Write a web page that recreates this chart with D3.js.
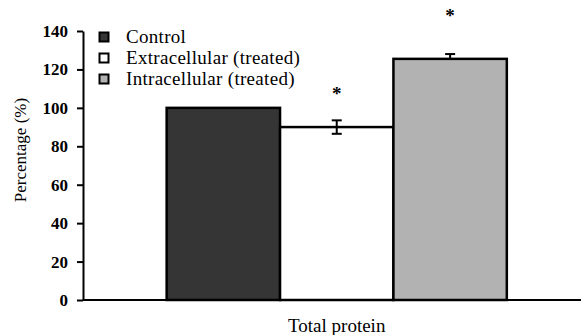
<!DOCTYPE html>
<html>
<head>
<meta charset="utf-8">
<script src="https://cdn.jsdelivr.net/npm/d3@7"></script>
<style>
  body { margin: 0; background: #fff; }
  svg { display: block; font-family: "Liberation Serif", "Times New Roman", serif; }
</style>
</head>
<body>
<svg id="chart" width="581" height="335"></svg>
<script>
// data
var groups = ["Total protein"];
var series = ["Control", "Extracellular (treated)", "Intracellular (treated)"];
var values = [100, 90, 125.5];
var errors = [0, 3.5, 2.5];
var starred = [false, true, true];
var colors = ["#353535", "#ffffff", "#b2b2b2"];
var yTicks = [0, 20, 40, 60, 80, 100, 120, 140];

// star distance above the error bar top, px
var starGap = [0, 20, 32];

var svg = d3.select("#chart");

var plotLeft = 83, plotRight = 581, plotTop = 31, plotBottom = 300;

var y = d3.scaleLinear().domain([0, 140]).range([plotBottom, plotTop]);

var x0 = d3.scaleBand().domain(groups).range([plotLeft, plotRight])
    .paddingInner(0).paddingOuter(0.232).align(0.53);
var x1 = d3.scaleBand().domain(series).range([0, x0.bandwidth()]).padding(0);

// y axis
var yAxis = svg.append("g")
    .attr("transform", "translate(" + plotLeft + ",0)")
    .call(d3.axisLeft(y).tickValues(yTicks).tickSize(6).tickPadding(9).tickSizeOuter(0));
yAxis.attr("font-family", "Liberation Serif, Times New Roman, serif")
    .attr("font-size", 17)
    .attr("font-weight", "bold");
yAxis.select(".domain").attr("stroke", "#000").attr("stroke-width", 2);
yAxis.selectAll(".tick line").attr("stroke", "#000").attr("stroke-width", 2);
yAxis.selectAll(".tick text").attr("fill", "#000");

// bars
var g = svg.append("g").attr("transform", "translate(" + x0(groups[0]) + ",0)");

g.selectAll("rect.bar")
    .data(series)
    .enter().append("rect")
    .attr("class", "bar")
    .attr("x", function(d) { return x1(d); })
    .attr("y", function(d, i) { return y(values[i]); })
    .attr("width", x1.bandwidth())
    .attr("height", function(d, i) { return y(0) - y(values[i]); })
    .attr("fill", function(d, i) { return colors[i]; })
    .attr("stroke", "#000")
    .attr("stroke-width", 2.5);

// x axis line (drawn over bar bottoms)
svg.append("line")
    .attr("x1", plotLeft).attr("x2", plotRight)
    .attr("y1", y(0)).attr("y2", y(0))
    .attr("stroke", "#000").attr("stroke-width", 2);

// error bars (lower half hidden inside filled bars)
series.forEach(function(s, i) {
    if (!errors[i]) return;
    var cx = x1(s) + x1.bandwidth() / 2;
    var hi = y(values[i] + errors[i]);
    var lo = y(values[i] - errors[i]);
    var eb = g.append("g").attr("stroke", "#000").attr("stroke-width", 2);
    eb.append("line").attr("x1", cx).attr("x2", cx).attr("y1", hi).attr("y2", y(values[i]));
    eb.append("line").attr("x1", cx - 5).attr("x2", cx + 5).attr("y1", hi).attr("y2", hi);
    if (colors[i] === "#ffffff") {
        eb.append("line").attr("x1", cx).attr("x2", cx).attr("y1", y(values[i])).attr("y2", lo);
        eb.append("line").attr("x1", cx - 5).attr("x2", cx + 5).attr("y1", lo).attr("y2", lo);
    }
});

// significance stars
series.forEach(function(s, i) {
    if (!starred[i]) return;
    g.append("text")
        .attr("x", x1(s) + x1.bandwidth() / 2)
        .attr("y", y(values[i] + errors[i]) - starGap[i])
        .attr("text-anchor", "middle")
        .style("font-size", "19px")
        .style("font-weight", "bold")
        .text("*");
});

// legend
var legend = svg.append("g").attr("transform", "translate(99,0)");
series.forEach(function(s, i) {
    var row = legend.append("g").attr("transform", "translate(0," + (37 + i * 21) + ")");
    row.append("rect")
        .attr("x", 0.5).attr("y", -4.5)
        .attr("width", 9).attr("height", 9)
        .attr("fill", colors[i])
        .attr("stroke", "#000").attr("stroke-width", 2);
    row.append("text")
        .attr("x", 27).attr("y", 5.5)
        .style("font-size", "19px")
        .style("letter-spacing", "0.3px")
        .text(s);
});

// axis titles
svg.append("text")
    .attr("x", x0(groups[0]) + x0.bandwidth() / 2)
    .attr("y", 332)
    .attr("text-anchor", "middle")
    .style("font-size", "19px")
    .text(groups[0]);

svg.append("text")
    .attr("transform", "translate(26,150) rotate(-90)")
    .attr("text-anchor", "middle")
    .style("font-size", "17px")
    .text("Percentage (%)");
</script>
</body>
</html>
